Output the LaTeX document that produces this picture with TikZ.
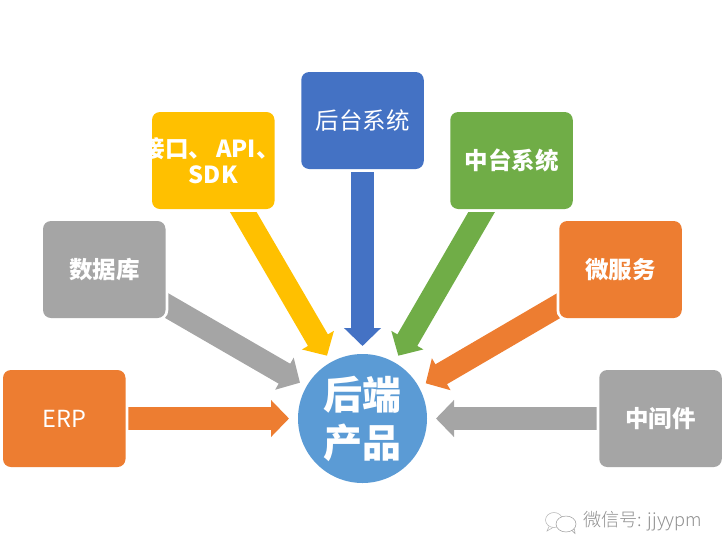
\documentclass[tikz,border=0pt]{standalone}
\usepackage{fontspec}
\setmainfont{Noto Sans CJK SC}
\newfontfamily\hubfont{Noto Sans CJK SC Black}
\newfontfamily\markfont{Noto Sans CJK SC Light}
\usetikzlibrary{arrows.meta}
\definecolor{cblue}{HTML}{4472C4}
\definecolor{cyellow}{HTML}{FFC000}
\definecolor{cgreen}{HTML}{70AD47}
\definecolor{corange}{HTML}{ED7D31}
\definecolor{cgray}{HTML}{A5A5A5}
\definecolor{chub}{HTML}{5B9BD5}
\definecolor{cmark}{HTML}{8F8F8F}
\tikzset{
  box/.style={rounded corners=8pt,minimum width=122.5pt,minimum height=97pt,inner sep=0pt,outer sep=0pt,
    preaction={draw=white,line width=5.5pt},text=white,align=center,font=\fontsize{23.5}{26}\selectfont},
  heavy/.style={font=\fontsize{23.5}{26}\selectfont\bfseries},
  flow/.style={line width=23pt,-{Triangle[length=18pt,width=36pt]}},
}
\begin{document}
\begin{tikzpicture}[x=1pt,y=-1pt]
\useasboundingbox (0,0) rectangle (728,555);
\coordinate (tE) at (289,418.5);
\coordinate (tD) at (300,382.7);
\coordinate (tA) at (327,355.7);
\coordinate (tB) at (362.5,346);
\coordinate (tZ) at (398.3,355.7);
\coordinate (tW) at (425.7,383.3);
\coordinate (tM) at (436,418.5);
\coordinate (sE) at (64.25,418.5);
\coordinate (sD) at (104.25,269.5);
\coordinate (sA) at (213.25,160.5);
\coordinate (sB) at (362.5,120.5);
\coordinate (sZ) at (511.5,160.5);
\coordinate (sW) at (620.5,269.5);
\coordinate (sM) at (660.5,418.5);
\draw[flow,cgray] (sD) -- (tD);
\draw[flow,corange] (sE) -- (tE);
\draw[flow,cyellow] (sA) -- (tA);
\draw[flow,cblue] (sB) -- (tB);
\draw[flow,cgreen] (sZ) -- (tZ);
\draw[flow,corange] (sW) -- (tW);
\draw[flow,cgray] (sM) -- (tM);
\node[box,fill=corange] (erp) at (sE) {ERP};
\node[box,fill=cgray,heavy] (db) at (sD) {数据库};
\node[box,fill=cyellow,heavy] (api) at (sA) {\makebox[0pt]{\hspace*{-5pt}接口、\kern4pt API、}\\SDK};
\node[box,fill=cblue] (back) at (sB) {\raisebox{-1pt}{后台系统}};
\node[box,fill=cgreen,heavy] (mid) at (sZ) {中台系统};
\node[box,fill=corange,heavy] (micro) at (sW) {微服务};
\node[box,fill=cgray,heavy] (ware) at (sM) {中间件};
\node[circle,fill=chub,minimum size=129pt,inner sep=0pt,text=white,align=center,
  font=\fontsize{39}{48}\hubfont] (hub) at (362.5,418.5) {\raisebox{2.5pt}{后端}\\\raisebox{2.5pt}{产品}};
\node[text=cmark,font=\fontsize{18.2}{20}\markfont,anchor=west,inner sep=0pt] (mark) at (583,521.5) {微信号: jjyypm};
\draw[cmark!70,line width=.5pt,fill=white] (554,520) ellipse (8.5pt and 7.5pt);
\draw[cmark!70,line width=.5pt] (549,526.5) -- (547,531) -- (553,527.5);
\draw[cmark!90,line width=.5pt,fill=white] (566,524) ellipse (10pt and 8pt);
\draw[cmark!90,line width=.5pt] (572,530.5) -- (575,533.5) -- (574.5,529);
\end{tikzpicture}
\end{document}
